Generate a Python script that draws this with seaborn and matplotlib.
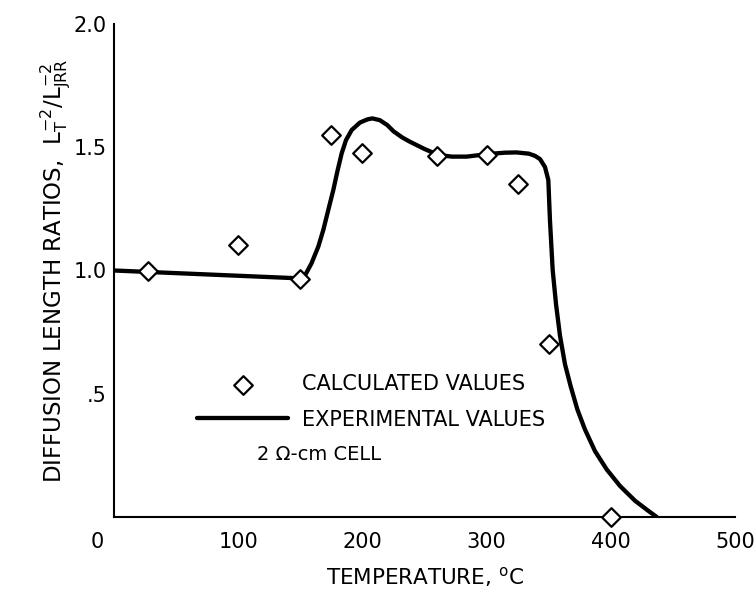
import matplotlib
matplotlib.use("Agg")
import matplotlib.pyplot as plt
import seaborn as sns
import pandas as pd

# ---- data ----
calc_temp = [27, 100, 150, 175, 200, 260, 300, 325, 350, 400]
calc_ratio = [1.0, 1.105, 0.966, 1.551, 1.477, 1.466, 1.470, 1.351, 0.70, 0.0]

exp_temp = [0, 150, 154, 159, 164.5, 168.5, 172.5, 176.6, 179.8, 183.3, 186.8,
            191.4, 198, 204, 208, 214, 220, 225, 232, 238, 250, 261, 272, 284,
            302, 315, 324, 334, 339, 343, 347, 349.7, 351, 353.2, 355.9, 359.1,
            363.1, 367.7, 373.1, 379.2, 387.3, 396.7, 407.4, 419.5, 430.2, 437]
exp_ratio = [1.0, 0.968, 0.982, 1.029, 1.097, 1.164, 1.245, 1.327, 1.401, 1.475,
             1.529, 1.570, 1.600, 1.613, 1.617, 1.610, 1.590, 1.565, 1.540, 1.523,
             1.493, 1.469, 1.462, 1.462, 1.473, 1.478, 1.479, 1.474, 1.465, 1.452,
             1.420, 1.367, 1.205, 1.002, 0.863, 0.735, 0.620, 0.530, 0.436, 0.355,
             0.267, 0.193, 0.126, 0.066, 0.025, 0.0]

x_ticks = [100, 200, 300, 400, 500]
x_ticklabels = ["100", "200", "300", "400", "500"]
y_ticks = [0.5, 1.0, 1.5, 2.0]
y_ticklabels = [".5", "1.0", "1.5", "2.0"]

calc_df = pd.DataFrame({"temp": calc_temp, "ratio": calc_ratio})
exp_df = pd.DataFrame({"temp": exp_temp, "ratio": exp_ratio})

sns.set_style("white")
plt.rcParams["font.family"] = ["DejaVu Sans"]
plt.rcParams["mathtext.fontset"] = "custom"
plt.rcParams["mathtext.rm"] = "DejaVu Sans"
plt.rcParams["mathtext.it"] = "DejaVu Sans"
plt.rcParams["text.color"] = "black"
plt.rcParams["axes.labelcolor"] = "black"
plt.rcParams["xtick.color"] = "black"
plt.rcParams["ytick.color"] = "black"

fig = plt.figure(figsize=(7.55, 5.93), dpi=100)
ax = fig.add_axes([114 / 755, 1 - 517 / 593, (735 - 114) / 755, (517 - 24) / 593])

sns.lineplot(data=exp_df, x="temp", y="ratio", ax=ax, color="black", lw=3.1,
             estimator=None, sort=False, label="EXPERIMENTAL VALUES",
             solid_joinstyle="round", solid_capstyle="round", zorder=2)
sns.scatterplot(data=calc_df, x="temp", y="ratio", ax=ax, marker="D", s=90,
                facecolor="white", edgecolor="black", linewidth=1.6,
                label="CALCULATED VALUES", zorder=3, clip_on=False)

ax.set_xlim(0, 500)
ax.set_ylim(0, 2.0)
ax.set_xticks(x_ticks)
ax.set_xticklabels(x_ticklabels)
ax.set_yticks(y_ticks)
ax.set_yticklabels(y_ticklabels)
ax.tick_params(axis="both", direction="in", length=25, width=1.5, colors="black",
               labelsize=15)
ax.tick_params(axis="x", pad=11)
ax.tick_params(axis="y", pad=5)

for s in ["top", "right"]:
    ax.spines[s].set_visible(False)
for s in ["left", "bottom"]:
    ax.spines[s].set_linewidth(1.5)
    ax.spines[s].set_color("black")

ax.set_xlabel(r"TEMPERATURE, $\mathregular{^{o}}$C", fontsize=15.5, labelpad=9)
ax.set_ylabel(r"DIFFUSION LENGTH RATIOS,  $\mathregular{L_T^{-2}/L_{JRR}^{-2}}$",
              fontsize=16.5, labelpad=1)

fig.text(97.5 / 755, 1 - 542 / 593, "0", fontsize=15, ha="center", va="center")
fig.text(256.7 / 755, 1 - 455 / 593, "2 \u03a9-cm CELL", fontsize=14,
         ha="left", va="center")

handles, labels = ax.get_legend_handles_labels()
order = [labels.index("CALCULATED VALUES"), labels.index("EXPERIMENTAL VALUES")]
ax.legend([handles[i] for i in order], [labels[i] for i in order],
          loc="upper left", bbox_to_anchor=(197 / 755, 1 - 374 / 593),
          bbox_transform=fig.transFigure, frameon=False, fontsize=15,
          handlelength=4.37, handletextpad=0.66, labelspacing=0.75,
          borderpad=0, borderaxespad=0, scatterpoints=1)

fig.savefig("out.png", dpi=100)
